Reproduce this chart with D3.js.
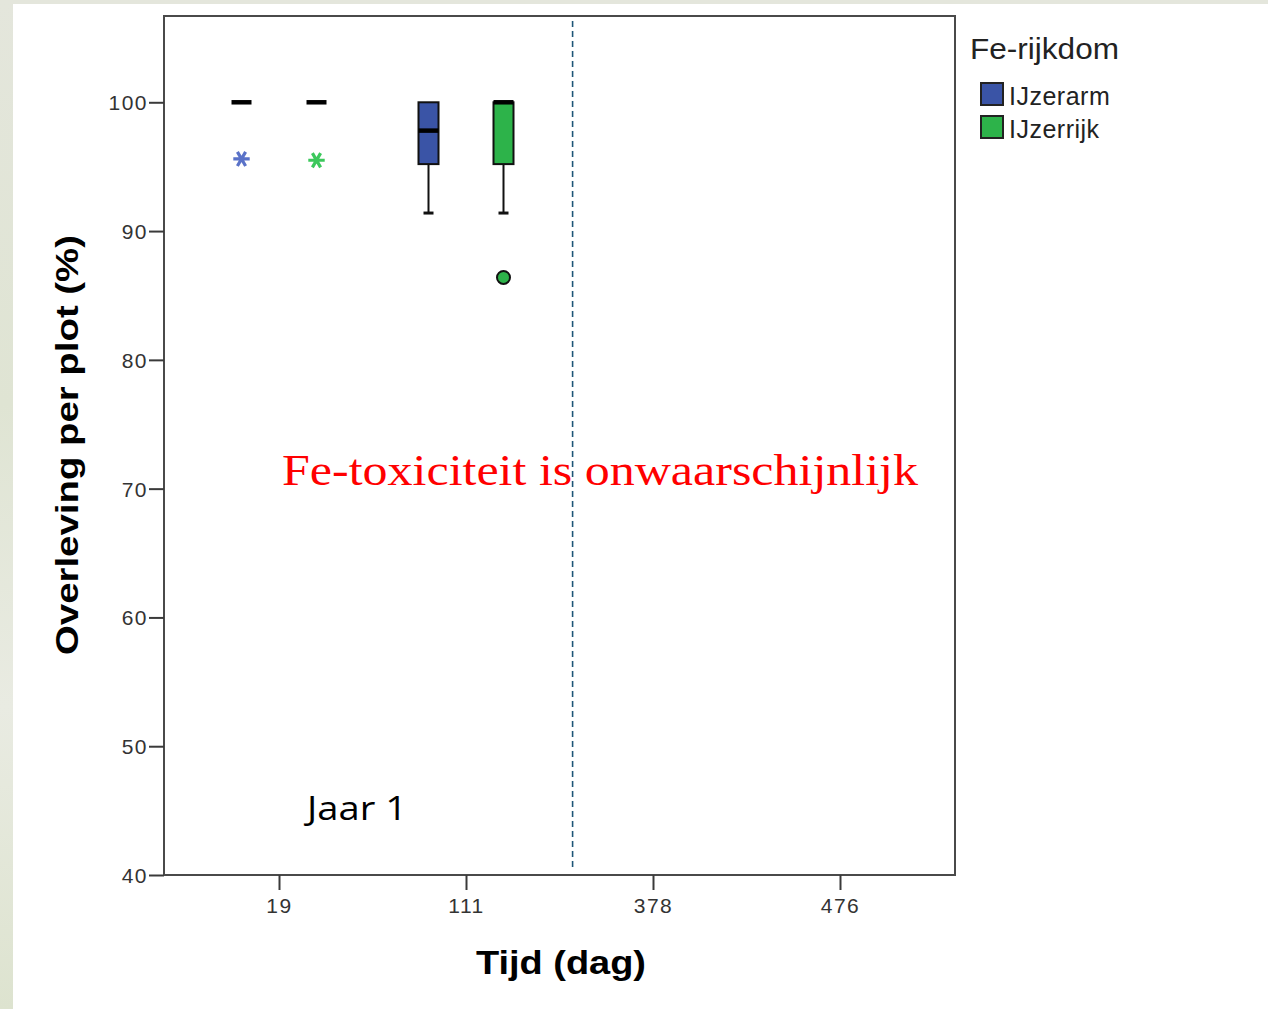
<!DOCTYPE html>
<html>
<head>
<meta charset="utf-8">
<script src="https://cdn.jsdelivr.net/npm/d3@7"></script>
<style>
  html, body { margin: 0; padding: 0; background: #ffffff; }
  svg { display: block; }
</style>
</head>
<body>
<svg id="chart" width="1268" height="1009"></svg>
<script>
// Survival per plot over time, by iron richness
const days = ["19", "111", "378", "476"];
const groups = ["IJzerarm", "IJzerrijk"];
const groupColors = ["#3a54a6", "#2db34a"];
const starColors = ["#5a72c8", "#3cc85c"];
const yTicks = [40, 50, 60, 70, 80, 90, 100];

// Box statistics: [day, lower whisker, Q1, median, Q3, upper whisker]
const ijzerarmBoxes = [
  ["19", 100, 100, 100, 100, 100],
  ["111", 91.4, 95.2, 97.8, 100, 100]
];
const ijzerrijkBoxes = [
  ["19", 100, 100, 100, 100, 100],
  ["111", 91.4, 95.2, 100, 100, 100]
];
// Extreme values (asterisks): [group index, day, value]
const extremes = [
  [0, "19", 95.6],
  [1, "19", 95.5]
];
// Outliers (circles): [group index, day, value]
const outliers = [
  [1, "111", 86.4]
];

const svg = d3.select("#chart");

// backdrop: soft grassy photo edge round a white sheet
const defs = svg.append("defs");
const bg = defs.append("linearGradient").attr("id", "bg").attr("x1", 0).attr("x2", 0).attr("y1", 0).attr("y2", 1);
bg.append("stop").attr("offset", "0%").attr("stop-color", "#e4e6dc");
bg.append("stop").attr("offset", "40%").attr("stop-color", "#dfe4d3");
bg.append("stop").attr("offset", "70%").attr("stop-color", "#e9ebe2");
bg.append("stop").attr("offset", "100%").attr("stop-color", "#dde3cf");
svg.append("rect").attr("width", 1268).attr("height", 1009).attr("fill", "url(#bg)");
svg.append("rect").attr("x", 13).attr("y", 4).attr("width", 1255).attr("height", 1005).attr("fill", "#ffffff");

const plot = { left: 164, right: 955, top: 16, bottom: 875 };

const x = d3.scalePoint().domain(days).range([plot.left, plot.right]).padding(0.615);
const y = d3.scaleLinear().domain([40, 106.7]).range([plot.bottom, plot.top]);
const groupOffset = 37.5;
const boxW = 20;

// frame
svg.append("rect")
  .attr("x", plot.left).attr("y", plot.top)
  .attr("width", plot.right - plot.left).attr("height", plot.bottom - plot.top)
  .attr("fill", "none").attr("stroke", "#4a4a4a").attr("stroke-width", 2);

// y axis
const yAxis = d3.axisLeft(y).tickValues(yTicks).tickSize(15).tickPadding(1).tickFormat(d3.format("d"));
const gy = svg.append("g").attr("transform", `translate(${plot.left},0)`).call(yAxis);
gy.select(".domain").remove();
gy.selectAll(".tick line").attr("stroke", "#3a3a3a").attr("stroke-width", 2);
gy.selectAll(".tick text")
  .attr("font-family", "Liberation Sans, Arial, sans-serif")
  .attr("font-size", 21).attr("fill", "#333")
  .attr("letter-spacing", 1.5).attr("dy", "0.36em");

// x axis
const xAxis = d3.axisBottom(x).tickSize(15).tickPadding(8);
const gx = svg.append("g").attr("transform", `translate(0,${plot.bottom})`).call(xAxis);
gx.select(".domain").remove();
gx.selectAll(".tick line").attr("stroke", "#3a3a3a").attr("stroke-width", 2);
gx.selectAll(".tick text")
  .attr("font-family", "Liberation Sans, Arial, sans-serif")
  .attr("font-size", 21).attr("fill", "#333")
  .attr("letter-spacing", 1.5);

// vertical separator between the two years
const sepX = x("111") + (x("378") - x("111")) * 0.57;
svg.append("line")
  .attr("x1", sepX).attr("x2", sepX).attr("y1", plot.top + 5).attr("y2", plot.bottom - 8)
  .attr("stroke", "#1d5577").attr("stroke-width", 1.6).attr("stroke-dasharray", "6,4");

// boxplots
function drawBoxes(rows, gi) {
  const cx = d => x(d[0]) + (gi === 0 ? -groupOffset : groupOffset);
  const g = svg.append("g");
  rows.forEach(d => {
    const c = cx(d);
    const [, lo, q1, med, q3, hi] = d;
    if (q3 > q1) {
      // whiskers
      g.append("line").attr("x1", c).attr("x2", c).attr("y1", y(q1)).attr("y2", y(lo))
        .attr("stroke", "#111").attr("stroke-width", 2);
      g.append("line").attr("x1", c).attr("x2", c).attr("y1", y(q3)).attr("y2", y(hi))
        .attr("stroke", "#111").attr("stroke-width", 2);
      g.append("line").attr("x1", c - 5).attr("x2", c + 5).attr("y1", y(lo)).attr("y2", y(lo))
        .attr("stroke", "#111").attr("stroke-width", 3);
      g.append("rect")
        .attr("x", c - boxW / 2).attr("y", y(q3))
        .attr("width", boxW).attr("height", y(q1) - y(q3))
        .attr("fill", groupColors[gi]).attr("stroke", "#111").attr("stroke-width", 2);
    }
    g.append("line").attr("x1", c - boxW / 2).attr("x2", c + boxW / 2)
      .attr("y1", y(med)).attr("y2", y(med))
      .attr("stroke", "#000").attr("stroke-width", 4.5);
  });
}
drawBoxes(ijzerarmBoxes, 0);
drawBoxes(ijzerrijkBoxes, 1);

const star = d3.symbol().type(d3.symbolAsterisk).size(190);
svg.append("g").selectAll("path").data(extremes).join("path")
  .attr("d", star)
  .attr("transform", d => `translate(${x(d[1]) + (d[0] === 0 ? -groupOffset : groupOffset)},${y(d[2])}) rotate(30)`)
  .attr("fill", "none").attr("stroke", d => starColors[d[0]]).attr("stroke-width", 3.2);

svg.append("g").selectAll("circle").data(outliers).join("circle")
  .attr("cx", d => x(d[1]) + (d[0] === 0 ? -groupOffset : groupOffset))
  .attr("cy", d => y(d[2]))
  .attr("r", 6.5)
  .attr("fill", d => groupColors[d[0]]).attr("stroke", "#111").attr("stroke-width", 2);

// axis titles
svg.append("text")
  .attr("transform", "translate(78,445) rotate(-90)")
  .attr("text-anchor", "middle")
  .attr("font-family", "Liberation Sans, Arial, sans-serif")
  .attr("font-weight", "bold").attr("font-size", 31)
  .attr("textLength", 420).attr("lengthAdjust", "spacingAndGlyphs")
  .attr("fill", "#000")
  .text("Overleving per plot (%)");

svg.append("text")
  .attr("x", 561).attr("y", 974)
  .attr("text-anchor", "middle")
  .attr("font-family", "Liberation Sans, Arial, sans-serif")
  .attr("font-weight", "bold").attr("font-size", 34)
  .attr("textLength", 170).attr("lengthAdjust", "spacingAndGlyphs")
  .attr("fill", "#000")
  .text("Tijd (dag)");

// annotations
svg.append("text")
  .attr("x", 307).attr("y", 820)
  .attr("font-family", "Open Sans, Liberation Sans, sans-serif")
  .attr("font-size", 33)
  .attr("textLength", 100).attr("lengthAdjust", "spacingAndGlyphs")
  .attr("fill", "#000")
  .text("Jaar 1");

svg.append("text")
  .attr("x", 282).attr("y", 485)
  .attr("font-family", "Liberation Serif, DejaVu Serif, serif")
  .attr("font-size", 45)
  .attr("textLength", 636).attr("lengthAdjust", "spacingAndGlyphs")
  .attr("fill", "#ff0000")
  .text("Fe-toxiciteit is onwaarschijnlijk");

// legend
const legend = svg.append("g");
legend.append("text")
  .attr("x", 970).attr("y", 59)
  .attr("font-family", "Liberation Sans, Arial, sans-serif")
  .attr("font-size", 29)
  .attr("textLength", 149).attr("lengthAdjust", "spacingAndGlyphs")
  .attr("fill", "#222")
  .text("Fe-rijkdom");
const items = legend.selectAll("g.item").data(groups).join("g")
  .attr("class", "item")
  .attr("transform", (d, i) => `translate(981,${83 + i * 33})`);
items.append("rect")
  .attr("width", 22).attr("height", 22)
  .attr("fill", (d, i) => groupColors[i]).attr("stroke", "#222").attr("stroke-width", 2);
items.append("text")
  .attr("x", 28).attr("y", 22)
  .attr("font-family", "Liberation Sans, Arial, sans-serif")
  .attr("font-size", 25)
  .attr("letter-spacing", 0.5)
  .attr("fill", "#222")
  .text(d => d);
</script>
</body>
</html>
